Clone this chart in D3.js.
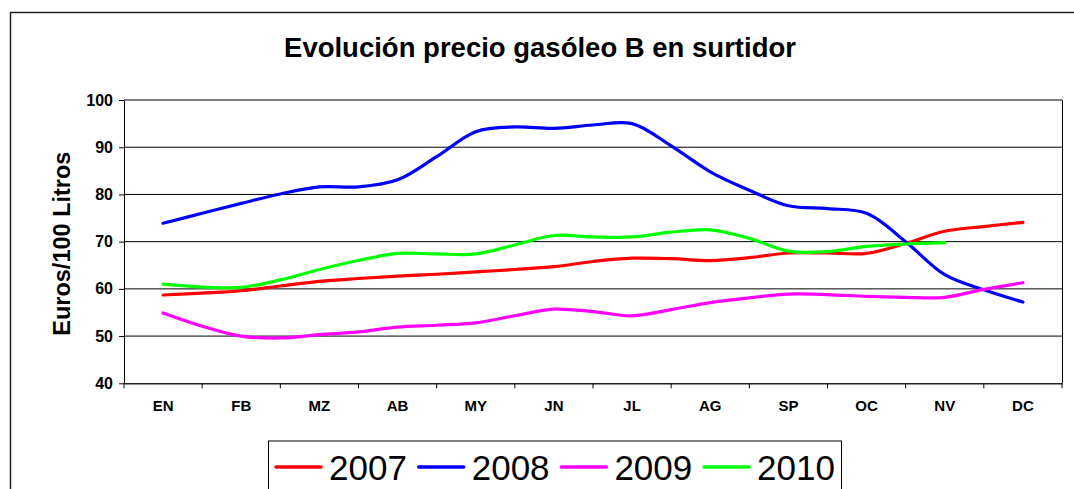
<!DOCTYPE html>
<html>
<head>
<meta charset="utf-8">
<script src="https://cdnjs.cloudflare.com/ajax/libs/d3/7.8.5/d3.min.js"></script>
<style>
  body { margin: 0; background: #fff; }
  svg { display: block; font-family: "Liberation Sans", Arial, sans-serif; }
</style>
</head>
<body>
<div id="my_dataviz"></div>
<script>
// months on the category axis
var months = ["EN", "FB", "MZ", "AB", "MY", "JN", "JL", "AG", "SP", "OC", "NV", "DC"];
var years = ["2007", "2008", "2009", "2010"];
var yTicks = [40, 50, 60, 70, 80, 90, 100];

// two readings per month (start and middle), from EN to DC
var v2007 = [58.7, 59.1, 59.6, 60.6, 61.6, 62.2, 62.7, 63.1, 63.6, 64.1, 64.7, 65.8,
             66.5, 66.4, 66.0, 66.6, 67.6, 67.6, 67.5, 69.6, 72.2, 73.2, 74.1];
var v2008 = [73.9, 76.0, 78.1, 80.1, 81.6, 81.6, 83.1, 88.0, 93.3, 94.3, 94.0, 94.7,
             95.0, 90.3, 84.8, 80.9, 77.6, 77.0, 76.0, 70.0, 63.0, 59.8, 57.2];
var v2009 = [54.9, 52.1, 50.0, 49.6, 50.3, 50.9, 51.9, 52.3, 52.8, 54.3, 55.7, 55.2,
             54.3, 55.6, 57.1, 58.1, 58.9, 58.8, 58.4, 58.2, 58.2, 59.9, 61.3];
var v2010 = [61.0, 60.4, 60.3, 61.9, 64.1, 66.0, 67.5, 67.4, 67.4, 69.3, 71.3, 71.0,
             71.0, 72.0, 72.5, 70.7, 68.0, 67.9, 69.0, 69.5, 69.8];

var seriesValues = [v2007, v2008, v2009, v2010];
var colors = ["#ff0000", "#0000ff", "#ff00ff", "#00ff00"];

var W = 1074, H = 489;
var plot = {left: 124, right: 1062, top: 100, bottom: 383.3};

var svg = d3.select("#my_dataviz")
  .append("svg")
    .attr("width", W)
    .attr("height", H);

// outer chart border (runs off the right and bottom of the picture)
svg.append("rect")
  .attr("x", 10.5).attr("y", 12.5)
  .attr("width", W + 20).attr("height", H + 20)
  .attr("fill", "none")
  .attr("stroke", "#222")
  .attr("stroke-width", 1.5);

svg.append("text")
  .attr("x", 540)
  .attr("y", 57)
  .attr("text-anchor", "middle")
  .style("font-weight", "bold")
  .style("font-size", "27.5px")
  .text("Evolución precio gasóleo B en surtidor");

var x = d3.scaleBand()
  .domain(months)
  .range([plot.left, plot.right])
  .paddingInner(0).paddingOuter(0);

var y = d3.scaleLinear()
  .domain([40, 100])
  .range([plot.bottom, plot.top]);

// position of a half-month reading
var xAt = function(i) {
  return x(months[Math.floor(i / 2)]) + x.bandwidth() * (0.5 + (i % 2) * 0.5);
};

// gridlines
svg.append("g")
  .selectAll("line")
  .data(yTicks.filter(function(d) { return d > 40; }))
  .enter()
  .append("line")
    .attr("x1", plot.left)
    .attr("x2", plot.right)
    .attr("y1", function(d) { return y(d); })
    .attr("y2", function(d) { return y(d); })
    .attr("stroke", "#000")
    .attr("stroke-width", 1);

// right border of plot
svg.append("line")
  .attr("x1", plot.right + 0.5).attr("x2", plot.right + 0.5)
  .attr("y1", plot.top).attr("y2", plot.bottom)
  .attr("stroke", "#000");

// y axis
var yAxis = svg.append("g")
  .attr("transform", "translate(" + plot.left + ",0)")
  .call(d3.axisLeft(y).tickValues(yTicks).tickSize(5).tickPadding(6).tickSizeOuter(0));
yAxis.select(".domain").attr("stroke", "#000");
yAxis.selectAll("text")
  .style("font-size", "16px")
  .style("font-weight", "bold")
  .attr("fill", "#000");

// x axis: labels in the middle of each month, ticks on the month edges
var xAxis = svg.append("g")
  .attr("transform", "translate(0," + plot.bottom + ")")
  .call(d3.axisBottom(x).tickSize(0).tickPadding(17).tickSizeOuter(0));
xAxis.select(".domain").attr("stroke", "#222").attr("stroke-width", 1.5);
xAxis.selectAll("text")
  .style("font-size", "15px")
  .style("font-weight", "bold")
  .attr("fill", "#000");

svg.append("g")
  .selectAll("line")
  .data(months.concat(["end"]))
  .enter()
  .append("line")
    .attr("x1", function(d, i) { return i < months.length ? x(d) : plot.right; })
    .attr("x2", function(d, i) { return i < months.length ? x(d) : plot.right; })
    .attr("y1", plot.bottom)
    .attr("y2", plot.bottom + 5)
    .attr("stroke", "#000");

svg.append("text")
  .attr("transform", "translate(70," + ((plot.top + plot.bottom) / 2 + 2) + ") rotate(-90)")
  .attr("text-anchor", "middle")
  .style("font-weight", "bold")
  .style("font-size", "23.5px")
  .text("Euros/100 Litros");

// lines
var line = d3.line()
  .x(function(d, i) { return xAt(i); })
  .y(function(d) { return y(d); })
  .curve(d3.curveCatmullRom.alpha(0.5));

svg.append("g")
  .selectAll("path")
  .data(seriesValues)
  .enter()
  .append("path")
    .attr("d", function(d) { return line(d); })
    .attr("fill", "none")
    .attr("stroke", function(d, i) { return colors[i]; })
    .attr("stroke-width", 3.2)
    .attr("stroke-linejoin", "round")
    .attr("stroke-linecap", "round");

// legend
var legend = svg.append("g");
legend.append("rect")
  .attr("x", 268.5).attr("y", 441)
  .attr("width", 573).attr("height", 80)
  .attr("fill", "#fff")
  .attr("stroke", "#000");

var item = legend.selectAll("g.item")
  .data(years)
  .enter()
  .append("g")
    .attr("class", "item")
    .attr("transform", function(d, i) { return "translate(" + (276 + i * 142.7) + ",0)"; });

item.append("line")
  .attr("x1", 0).attr("x2", 45)
  .attr("y1", 467).attr("y2", 467)
  .attr("stroke", function(d, i) { return colors[i]; })
  .attr("stroke-width", 3.5)
  .attr("stroke-linecap", "round");

item.append("text")
  .attr("x", 53)
  .attr("y", 480)
  .style("font-size", "35px")
  .text(function(d) { return d; });
</script>
</body>
</html>
